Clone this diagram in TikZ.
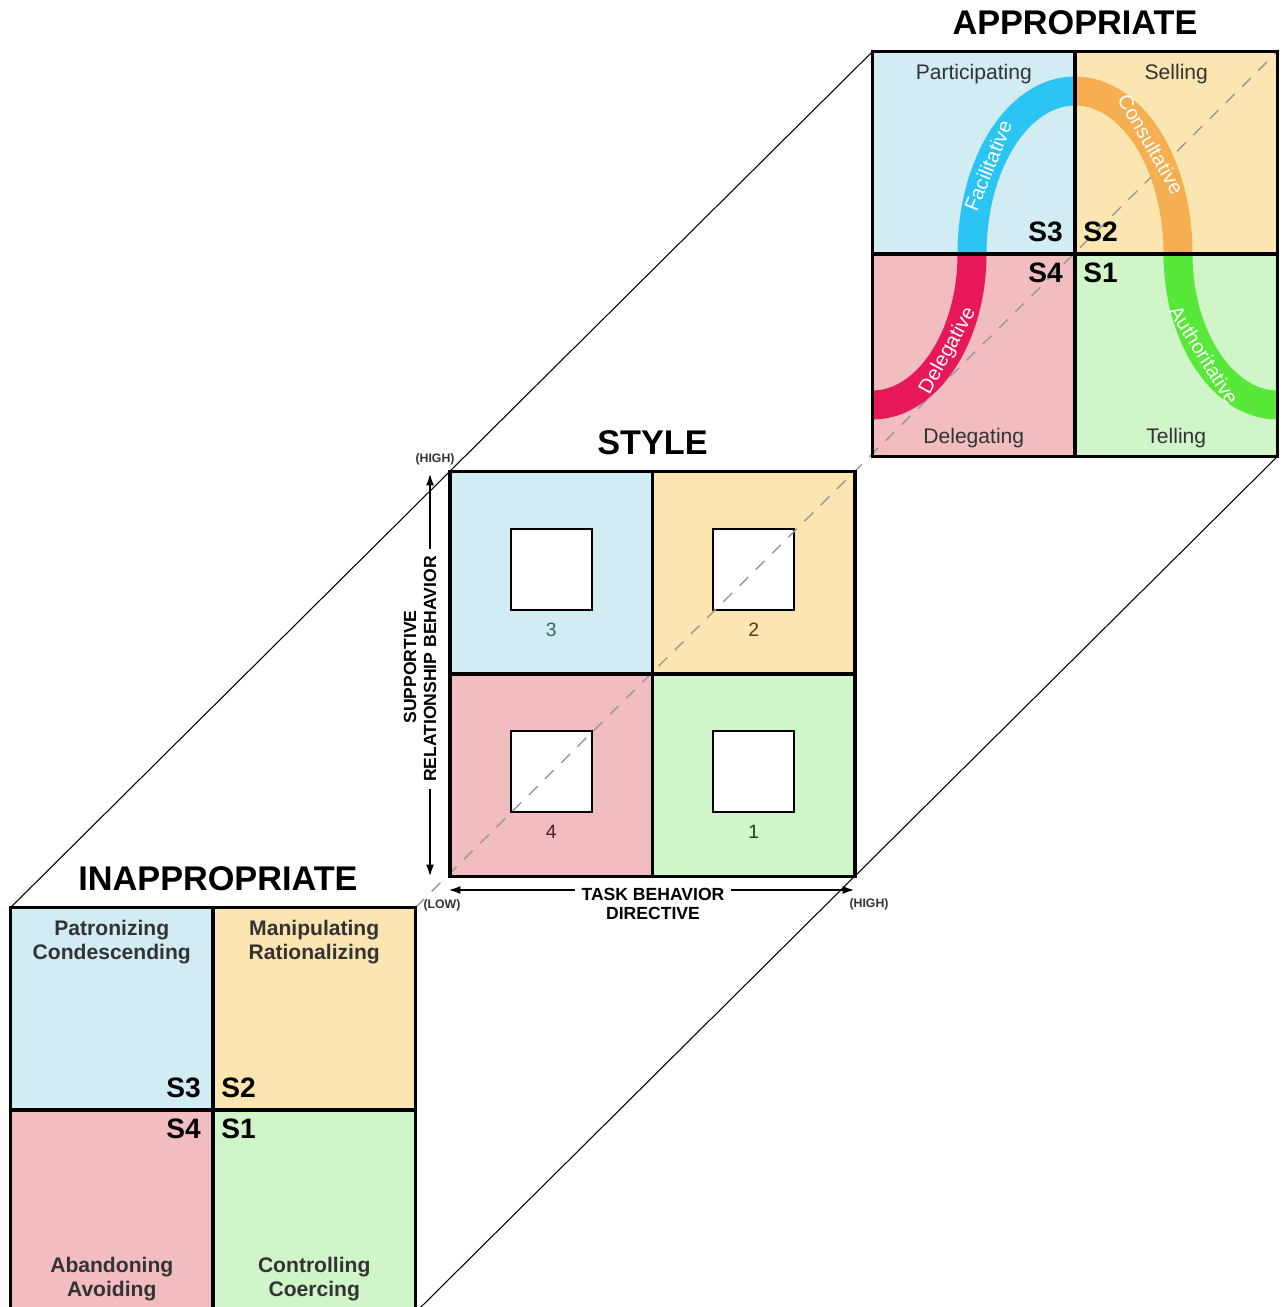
\documentclass[tikz,border=0pt]{standalone}
\usepackage{fontspec}
\setmainfont{Liberation Sans}
\usetikzlibrary{positioning,arrows.meta}

\definecolor{qblue}{RGB}{209,236,242}
\definecolor{qorange}{RGB}{251,229,177}
\definecolor{qpink}{RGB}{242,189,193}
\definecolor{qgreen}{RGB}{207,245,200}
\definecolor{bandpink}{RGB}{230,24,90}
\definecolor{bandblue}{RGB}{43,196,243}
\definecolor{bandorange}{RGB}{245,174,80}
\definecolor{bandgreen}{RGB}{88,232,58}
\definecolor{numblue}{RGB}{60,100,112}
\definecolor{numbrown}{RGB}{80,60,25}
\definecolor{numred}{RGB}{90,25,35}
\definecolor{numgreen}{RGB}{25,65,25}

\tikzset{
  quad/.style={minimum size=4.05cm, inner sep=0pt, outer sep=0pt},
  frame/.style={line width=2.2pt, line join=miter},
  hole/.style={draw, fill=white, line width=1pt, minimum size=1.62cm, inner sep=0pt},
  num/.style={font=\fontsize{11}{12}\selectfont},
  link/.style={line width=0.6pt},
  diag/.style={draw=gray!80, line width=0.8pt, dash pattern=on 7pt off 6pt},
  band/.style={line width=0.58cm},
  bandtext/.style={text=white, font=\fontsize{11.5}{12}\selectfont, inner sep=0pt},
  title/.style={font=\fontsize{19.5}{22}\selectfont\bfseries, anchor=base, inner sep=0pt},
  quadtext/.style={font=\fontsize{12}{14}\selectfont, text=black!80, anchor=base, inner sep=0pt},
  badtext/.style={font=\fontsize{12}{13.6}\selectfont\bfseries, text=black!80, align=center, inner sep=0pt},
  snum/.style={font=\fontsize{16}{18}\selectfont\bfseries, inner sep=0pt},
  axis/.style={line width=1.3pt, -{Latex[length=7pt,width=4.5pt]}},
  axistext/.style={font=\fontsize{10}{12}\selectfont\bfseries, inner sep=0pt, outer sep=4pt},
  endtext/.style={font=\fontsize{7}{8}\selectfont\bfseries, text=black!80, inner sep=0pt},
}

\begin{document}
\begin{tikzpicture}[x=0.02cm, y=-0.02cm]
\useasboundingbox (0,0) rectangle (1284,1307);

% inappropriate
\node[quad, fill=qblue, anchor=south east] (i3) at (213,1110) {};
\node[quad, fill=qorange, right=0pt of i3] (i2) {};
\node[quad, fill=qpink, below=0pt of i3] (i4) {};
\node[quad, fill=qgreen, right=0pt of i4] (i1) {};

% style
\node[quad, fill=qblue, anchor=south east] (s3) at (652.5,674) {};
\node[quad, fill=qorange, right=0pt of s3] (s2) {};
\node[quad, fill=qpink, below=0pt of s3] (s4) {};
\node[quad, fill=qgreen, right=0pt of s4] (s1) {};

% appropriate
\node[quad, fill=qblue, anchor=south east] (a3) at (1075,254) {};
\node[quad, fill=qorange, right=0pt of a3] (a2) {};
\node[quad, fill=qpink, below=0pt of a3] (a4) {};
\node[quad, fill=qgreen, right=0pt of a4] (a1) {};

\node[hole] (h3) at ([yshift=0.07cm]s3.center) {};
\node[hole] (h2) at ([yshift=0.07cm]s2.center) {};
\node[hole] (h4) at ([yshift=0.07cm]s4.center) {};
\node[hole] (h1) at ([yshift=0.07cm]s1.center) {};
\node[num, text=numblue] (n3) at ([yshift=-1.14cm]s3.center) {3};
\node[num, text=numbrown] (n2) at ([yshift=-1.14cm]s2.center) {2};
\node[num, text=numred] (n4) at ([yshift=-1.14cm]s4.center) {4};
\node[num, text=numgreen] (n1) at ([yshift=-1.14cm]s1.center) {1};

\draw[diag] (i2.north east) -- (a2.north east);

% the curve
\draw[band, bandpink] (872.5,405) .. controls (927,405) and (972,337) .. (972,254);
\draw[band, bandblue] (972,254) .. controls (972,164) and (1018,91) .. (1075,91);
\draw[band, bandorange] (1075,91) .. controls (1132,91) and (1178,164) .. (1178,254);
\draw[band, bandgreen] (1178,254) .. controls (1178,337) and (1223,405) .. (1277.5,405);
\node[bandtext, rotate=61] (tdel) at (948,351) {Delegative};
\node[bandtext, rotate=68] (tfac) at (988,166) {Facilitative};
\node[bandtext, rotate=-60] (tcons) at (1151,144) {Consultative};
\node[bandtext, rotate=-58] (tauth) at (1204,355) {Authoritative};

\draw[frame] (i3.north west) rectangle (i1.south east);
\draw[frame] (i3.north east) -- (i4.south east);
\draw[frame] (i3.south west) -- (i2.south east);
\draw[frame] (s3.north west) rectangle (s1.south east);
\draw[frame] (s3.north east) -- (s4.south east);
\draw[frame] (s3.south west) -- (s2.south east);
\draw[frame] (a3.north west) rectangle (a1.south east);
\draw[frame] (a3.north east) -- (a4.south east);
\draw[frame] (a3.south west) -- (a2.south east);

\draw[link] (i3.north west) -- (a3.north west);
\draw[link] (i1.south east) -- (a1.south east);

\node[title, xshift=0.1cm] (ititle) at ([yshift=0.34cm]i3.north east) {INAPPROPRIATE};
\node[title] (stitle) at ([yshift=0.34cm]s3.north east) {STYLE};
\node[title] (atitle) at ([yshift=0.34cm]a3.north east) {APPROPRIATE};

\node[quadtext] (tpart) at ([yshift=-0.56cm]a3.north) {Participating};
\node[quadtext] (tsell) at ([yshift=-0.56cm]a2.north) {Selling};
\node[quadtext] (tdlg) at ([yshift=0.26cm]a4.south) {Delegating};
\node[quadtext] (ttell) at ([yshift=0.26cm]a1.south) {Telling};

\node[snum, anchor=south east] (a-s3) at ([shift={(-12,-12)}]a3.south east) {S3};
\node[snum, anchor=south west] (a-s2) at ([shift={(8,-12)}]a3.south east) {S2};
\node[snum, anchor=north east] (a-s4) at ([shift={(-12,9)}]a3.south east) {S4};
\node[snum, anchor=north west] (a-s1) at ([shift={(8,9)}]a3.south east) {S1};
\node[snum, anchor=south east] (i-s3) at ([shift={(-12,-12)}]i3.south east) {S3};
\node[snum, anchor=south west] (i-s2) at ([shift={(8,-12)}]i3.south east) {S2};
\node[snum, anchor=north east] (i-s4) at ([shift={(-12,9)}]i3.south east) {S4};
\node[snum, anchor=north west] (i-s1) at ([shift={(8,9)}]i3.south east) {S1};

\node[badtext, anchor=north] (tpatr) at ([yshift=-0.25cm]i3.north) {Patronizing\\Condescending};
\node[badtext, anchor=north] (tmanip) at ([yshift=-0.25cm]i2.north) {Manipulating\\Rationalizing};
\node[badtext, anchor=south] (tabnd) at ([yshift=0.23cm]i4.south) {Abandoning\\Avoiding};
\node[badtext, anchor=south] (tctrl) at ([yshift=0.23cm]i1.south) {Controlling\\Coercing};

% axes
\coordinate (vtop) at (430,473);
\coordinate (vbot) at (430,877);
\coordinate (hleft) at (448,890);
\coordinate (hright) at (855,890);
\node[axistext, rotate=90] (vrel) at (430,669) {RELATIONSHIP BEHAVIOR};
\node[axistext, rotate=90] (vsup) at (410,667) {SUPPORTIVE};
\node[axistext] (htask) at (653,894) {TASK BEHAVIOR};
\node[axistext] (hdir) at (653,913) {DIRECTIVE};
\draw[axis] (vrel.east) -- (vtop);
\draw[axis] (vrel.west) -- (vbot);
\draw[axis] (htask.west |- hleft) -- (hleft);
\draw[axis] (htask.east |- hright) -- (hright);
\node[endtext] (vhigh) at (435,459) {(HIGH)};
\node[endtext] (hlow) at (442,905) {(LOW)};
\node[endtext] (hhigh) at (869,904) {(HIGH)};
\end{tikzpicture}
\end{document}
